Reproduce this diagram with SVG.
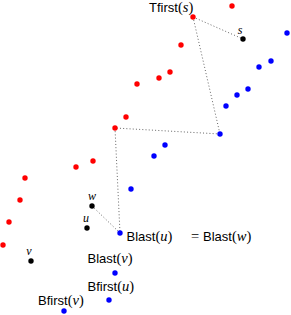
<svg xmlns="http://www.w3.org/2000/svg" width="291" height="315" viewBox="0 0 291 315">
<style>
.r{fill:#ff0000}.b{fill:#0000ff}.k{fill:#000}
.sf{font-family:"Liberation Sans",Arial,sans-serif;font-size:13px;fill:#000}
.m{font-family:"Liberation Serif","Times New Roman",serif;font-style:italic;font-size:14.5px}
.p{font-family:"Liberation Serif","Times New Roman",serif;font-style:normal;font-size:14.5px}
.v{font-family:"Liberation Serif","Times New Roman",serif;font-style:italic;font-size:12px;fill:#000;text-anchor:middle}
.c{stroke:#555;stroke-width:0.9;stroke-dasharray:1 2.2;fill:none}
</style>
<rect width="291" height="315" fill="#fff"/>
<g id="connectors">
<line class="c" x1="193" y1="17" x2="243" y2="39"/>
<line class="c" x1="193" y1="17" x2="220" y2="134"/>
<line class="c" x1="220" y1="134" x2="115" y2="128"/>
<line class="c" x1="115" y1="128" x2="120" y2="233"/>
<line class="c" x1="92" y1="206" x2="120" y2="233"/>
</g>
<g id="red-points">
<circle class="r" cx="232" cy="6" r="2.7"/>
<g id="tfirst-s"><circle class="r" cx="193" cy="17" r="2.7"/>
<text class="sf" x="149" y="12">Tfirst<tspan class="p">(</tspan><tspan class="m">s</tspan><tspan class="p">)</tspan></text></g>
<circle class="r" cx="181" cy="45" r="2.7"/>
<circle class="r" cx="170" cy="72" r="2.7"/>
<circle class="r" cx="159" cy="78" r="2.7"/>
<circle class="r" cx="137" cy="84" r="2.7"/>
<circle class="r" cx="126" cy="117" r="2.7"/>
<circle class="r" cx="115" cy="128" r="2.7"/>
<circle class="r" cx="93" cy="161" r="2.7"/>
<circle class="r" cx="76" cy="167" r="2.7"/>
<circle class="r" cx="25" cy="178" r="2.7"/>
<circle class="r" cx="20" cy="200" r="2.7"/>
<circle class="r" cx="9" cy="222" r="2.7"/>
<circle class="r" cx="3" cy="245" r="2.7"/>
</g>
<g id="blue-points">
<circle class="b" cx="287" cy="33" r="2.7"/>
<circle class="b" cx="271" cy="61" r="2.7"/>
<circle class="b" cx="259" cy="67" r="2.7"/>
<circle class="b" cx="248" cy="89" r="2.7"/>
<circle class="b" cx="237" cy="95" r="2.7"/>
<circle class="b" cx="226" cy="106" r="2.7"/>
<circle class="b" cx="220" cy="134" r="2.7"/>
<circle class="b" cx="165" cy="145" r="2.7"/>
<circle class="b" cx="154" cy="156" r="2.7"/>
<circle class="b" cx="131" cy="189" r="2.7"/>
</g>
<g id="blast-u-w"><circle class="b" cx="120" cy="233" r="2.7"/>
<text class="sf" x="126.5" y="241">Blast<tspan class="p">(</tspan><tspan class="m">u</tspan><tspan class="p">)</tspan><tspan x="191" class="p">=</tspan><tspan x="203">Blast</tspan><tspan class="p">(</tspan><tspan class="m">w</tspan><tspan class="p">)</tspan></text></g>
<g id="blast-v"><text class="sf" x="87.5" y="263">Blast<tspan class="p">(</tspan><tspan class="m">v</tspan><tspan class="p">)</tspan></text></g>
<g id="bfirst-u"><circle class="b" cx="115" cy="273" r="2.7"/>
<text class="sf" x="87.5" y="290.5">Bfirst<tspan class="p">(</tspan><tspan class="m">u</tspan><tspan class="p">)</tspan></text></g>
<g id="bfirst-v"><circle class="b" cx="64" cy="311" r="2.7"/>
<text class="sf" x="38" y="305">Bfirst<tspan class="p">(</tspan><tspan class="m">v</tspan><tspan class="p">)</tspan></text></g>
<circle class="b" cx="109" cy="300" r="2.7"/>
<g id="s"><circle class="k" cx="243" cy="39" r="2.7"/><text class="v" x="240" y="34">s</text></g>
<g id="w"><circle class="k" cx="92" cy="206" r="2.7"/><text class="v" x="92" y="200">w</text></g>
<g id="u"><circle class="k" cx="87" cy="228" r="2.7"/><text class="v" x="86" y="222">u</text></g>
<g id="v"><circle class="k" cx="31" cy="261" r="2.7"/><text class="v" x="29" y="255">v</text></g>
</svg>
